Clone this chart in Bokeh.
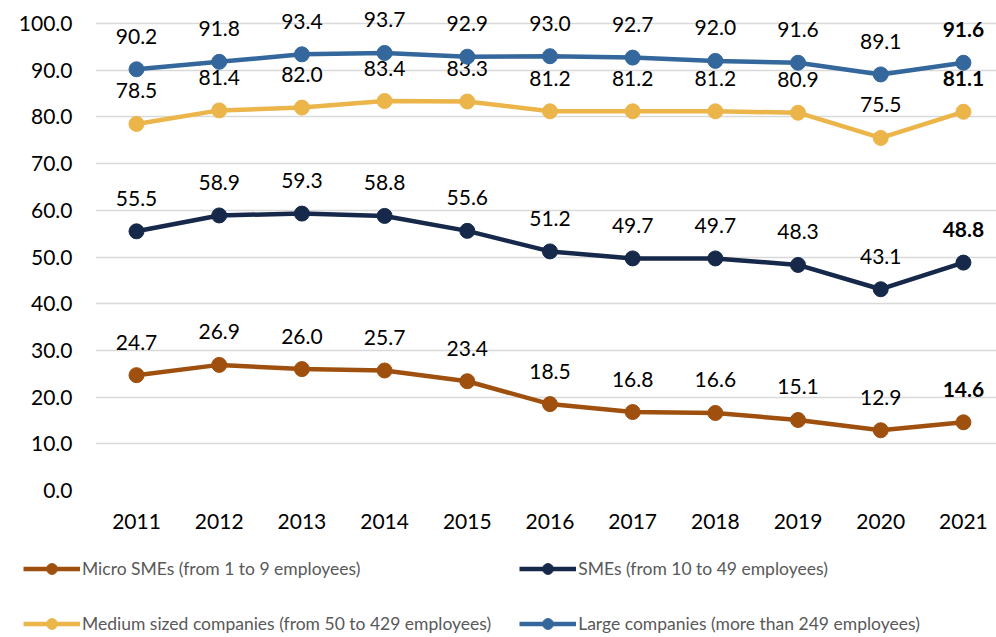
from bokeh.plotting import figure
from bokeh.models import Legend, LegendItem, FixedTicker, Range1d, ColumnDataSource, NumeralTickFormatter
from bokeh.core.properties import value
from bokeh.embed import file_html
from bokeh.resources import INLINE

years = [2011, 2012, 2013, 2014, 2015, 2016, 2017, 2018, 2019, 2020, 2021]
large = [90.2, 91.8, 93.4, 93.7, 92.9, 93.0, 92.7, 92.0, 91.6, 89.1, 91.6]
medium = [78.5, 81.4, 82.0, 83.4, 83.3, 81.2, 81.2, 81.2, 80.9, 75.5, 81.1]
smes = [55.5, 58.9, 59.3, 58.8, 55.6, 51.2, 49.7, 49.7, 48.3, 43.1, 48.8]
micro = [24.7, 26.9, 26.0, 25.7, 23.4, 18.5, 16.8, 16.6, 15.1, 12.9, 14.6]
y_ticks = [0, 10, 20, 30, 40, 50, 60, 70, 80, 90, 100]

# order: legend is filled column by column (col 1: Micro, Medium; col 2: SMEs, Large)
series = [
    ("Micro SMEs (from 1 to 9 employees)", micro, "#A0500E"),
    ("Medium sized companies (from 50 to 429 employees)", medium, "#EBB54A"),
    ("SMEs (from 10 to 49 employees)", smes, "#16294A"),
    ("Large companies (more than 249 employees)", large, "#34679C"),
]

FONT = "Lato"

p = figure(width=996, height=540, output_backend="svg", toolbar_location=None,
           x_range=Range1d(2010.504, 2021.40), y_range=Range1d(0, 104.93),
           min_border_left=95, min_border_right=0, min_border_top=0,
           min_border_bottom=50)
p.outline_line_color = None
p.background_fill_color = "white"
p.border_fill_color = "white"

p.xgrid.grid_line_color = None
p.ygrid.grid_line_color = "#D9D9D9"
p.ygrid.grid_line_width = 1.5
p.ygrid.ticker = FixedTicker(ticks=y_ticks)

p.yaxis.ticker = FixedTicker(ticks=y_ticks)
p.yaxis.formatter = NumeralTickFormatter(format="0.0")
p.xaxis.ticker = FixedTicker(ticks=years)
p.xaxis.formatter = NumeralTickFormatter(format="0")
for ax in (p.xaxis, p.yaxis):
    ax.axis_line_color = None
    ax.major_tick_line_color = None
    ax.minor_tick_line_color = None
    ax.major_tick_out = 0
    ax.major_tick_in = 0
    ax.major_label_text_font = FONT
    ax.major_label_text_font_size = "21px"
    ax.major_label_text_color = "#000000"
p.xaxis.major_label_standoff = 23
p.yaxis.major_label_standoff = 23

# legend figure (separate root so its frame is not aligned with the chart's)
lf = figure(width=996, height=97, output_backend="svg", toolbar_location=None,
            x_axis_location=None, y_axis_location=None,
            x_range=Range1d(0, 1), y_range=Range1d(0, 1),
            min_border_left=0, min_border_right=0, min_border_top=0, min_border_bottom=0)
lf.outline_line_color = None
lf.xgrid.grid_line_color = None
lf.ygrid.grid_line_color = None

items = []
for name, vals, color in series:
    src = ColumnDataSource(dict(x=years, y=vals))
    p.line("x", "y", source=src, line_color=color, line_width=4.5)
    p.scatter("x", "y", source=src, size=15, fill_color=color, line_color=color)
    rest = ColumnDataSource(dict(x=years[:-1], y=vals[:-1], lab=["%.1f" % v for v in vals[:-1]]))
    last = ColumnDataSource(dict(x=years[-1:], y=vals[-1:], lab=["%.1f" % vals[-1]]))
    p.text("x", "y", text="lab", source=rest, text_font=value(FONT), text_font_size="21px",
           text_align="center", text_baseline="middle", y_offset=-33, text_color="#000000")
    p.text("x", "y", text="lab", source=last, text_font=value(FONT), text_font_size="21px",
           text_font_style="bold",
           text_align="center", text_baseline="middle", y_offset=-33, text_color="#000000")
    # legend proxies (same series, outside the legend figure's visible range)
    lr = lf.line("x", "y", source=src, line_color=color, line_width=4.5)
    sr = lf.scatter("x", "y", source=src, size=15, fill_color=color, line_color=color)
    items.append(LegendItem(label=name, renderers=[lr, sr]))

legend = Legend(items=items, ncols=2, location=(23, 0))
legend.label_text_font = FONT
legend.label_text_font_size = "17.5px"
legend.label_text_color = "#595959"
legend.glyph_width = 57
legend.glyph_height = 27
legend.label_height = 27
legend.label_standoff = 2
legend.spacing = 28
legend.padding = 0
legend.margin = 0
legend.border_line_color = None
legend.background_fill_alpha = 0
lf.add_layout(legend, "center")

open("out.html", "w").write(file_html([p, lf], INLINE))
